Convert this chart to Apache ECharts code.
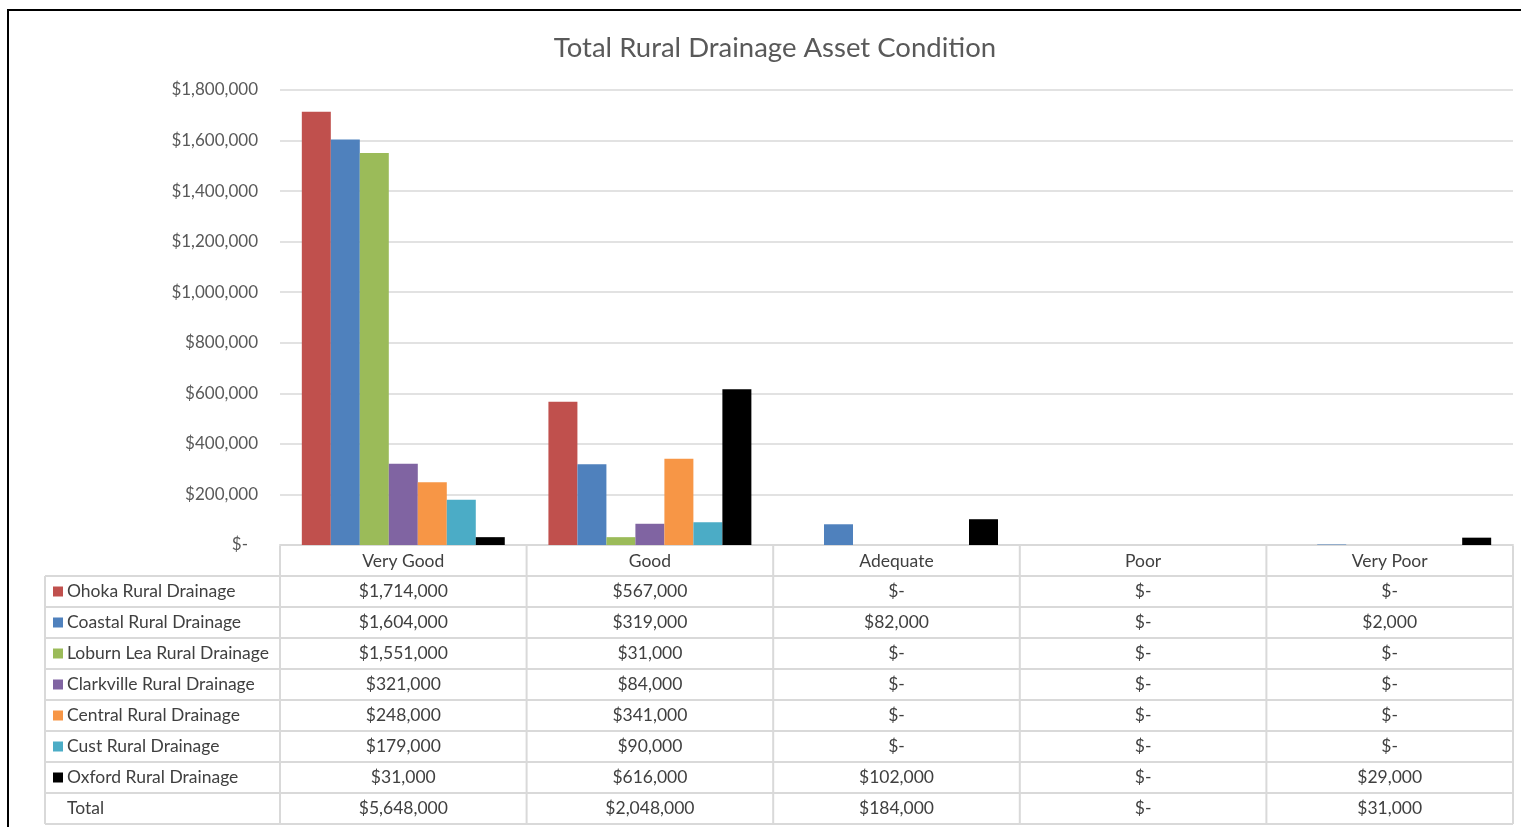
<!DOCTYPE html>
<html>
<head>
<meta charset="utf-8">
<script src="https://cdn.jsdelivr.net/npm/echarts@6/dist/echarts.min.js"></script>
<style>
  html, body { margin: 0; padding: 0; background: #fff; }
  #main { width: 1521px; height: 827px; }
</style>
</head>
<body>
<div id="main"></div>
<script>
// categories and series (values in $)
var categories = ['Very Good', 'Good', 'Adequate', 'Poor', 'Very Poor'];
var seriesNames = ['Ohoka Rural Drainage', 'Coastal Rural Drainage', 'Loburn Lea Rural Drainage',
  'Clarkville Rural Drainage', 'Central Rural Drainage', 'Cust Rural Drainage', 'Oxford Rural Drainage'];
var ohoka = [1714000, 567000, 0, 0, 0];
var coastal = [1604000, 319000, 82000, 0, 2000];
var loburn = [1551000, 31000, 0, 0, 0];
var clarkville = [321000, 84000, 0, 0, 0];
var central = [248000, 341000, 0, 0, 0];
var cust = [179000, 90000, 0, 0, 0];
var oxford = [31000, 616000, 102000, 0, 29000];
var colors = ['#C0504D', '#4F81BD', '#9BBB59', '#8064A2', '#F79646', '#4BACC6', '#000000'];

var allData = [ohoka, coastal, loburn, clarkville, central, cust, oxford];
var totals = categories.map(function (c, i) {
  return allData.reduce(function (s, arr) { return s + arr[i]; }, 0);
});

function money(v) {
  if (!v) return '$-';
  return '$' + v.toLocaleString('en-US');
}

var FONT = 'Lato';
var W = 1521, H = 827;
var gridL = 280, gridR = 8, gridT = 90, gridB = 282;
var plotBottom = H - gridB;
var colW = (W - gridL - gridR) / categories.length;
var rowH = 31;
var tableTop = plotBottom + 1;
var headH = 30;
var leftCol = 45;
var lineCol = '#d9d9d9';

// build data table from arrays
var g = [];
// outer border
g.push({ type: 'rect', shape: { x: 8, y: 10, width: W, height: H }, style: { fill: null, stroke: '#000', lineWidth: 2 }, silent: true });

var nRows = seriesNames.length + 1;
var bodyTop = tableTop + headH;
var tableBottom = bodyTop + nRows * rowH;
// header verticals
for (var c = 0; c <= categories.length; c++) {
  var x = gridL + c * colW;
  g.push({ type: 'line', shape: { x1: x, y1: tableTop, x2: x, y2: tableBottom }, style: { stroke: lineCol, lineWidth: 2 } });
}
g.push({ type: 'line', shape: { x1: leftCol, y1: bodyTop, x2: leftCol, y2: tableBottom }, style: { stroke: lineCol, lineWidth: 2 } });
// horizontals
for (var r = 0; r <= nRows; r++) {
  var y = bodyTop + r * rowH;
  g.push({ type: 'line', shape: { x1: leftCol, y1: y, x2: W - gridR, y2: y }, style: { stroke: lineCol, lineWidth: 2 } });
}
// header labels
categories.forEach(function (cat, i) {
  g.push({ type: 'text', x: gridL + (i + 0.5) * colW, y: tableTop + headH / 2,
    style: { text: cat, fill: '#404040', font: '17.5px ' + FONT, align: 'center', verticalAlign: 'middle' } });
});
// body rows
var rowNames = seriesNames.concat(['Total']);
var rowData = allData.concat([totals]);
rowNames.forEach(function (name, r) {
  var cy = bodyTop + (r + 0.5) * rowH;
  if (r < seriesNames.length) {
    g.push({ type: 'rect', shape: { x: 53, y: cy - 5, width: 10, height: 10 }, style: { fill: colors[r] } });
  }
  g.push({ type: 'text', x: 67, y: cy,
    style: { text: name, fill: '#404040', font: '17.5px ' + FONT, align: 'left', verticalAlign: 'middle' } });
  rowData[r].forEach(function (v, i) {
    g.push({ type: 'text', x: gridL + (i + 0.5) * colW, y: cy,
      style: { text: money(v), fill: '#404040', font: '17.5px ' + FONT, align: 'center', verticalAlign: 'middle' } });
  });
});

var chart = echarts.init(document.getElementById('main'));
chart.setOption({
  animation: false,
  color: colors,
  title: {
    text: 'Total Rural Drainage Asset Condition',
    left: 770, top: 29, textAlign: 'center',
    textStyle: { fontFamily: FONT, fontSize: 27.5, fontWeight: 'normal', color: '#595959' }
  },
  grid: { left: gridL, right: gridR, top: gridT, bottom: gridB, containLabel: false },
  xAxis: {
    type: 'category', data: categories,
    axisLine: { show: true, lineStyle: { color: lineCol, width: 2 } },
    axisTick: { show: false }, axisLabel: { show: false }
  },
  yAxis: {
    type: 'value', min: 0, max: 1800000, interval: 200000,
    axisLine: { show: false }, axisTick: { show: false },
    splitLine: { lineStyle: { color: lineCol, width: 1.5 } },
    axisLabel: {
      margin: 22, color: '#595959', fontFamily: FONT, fontSize: 17,
      formatter: function (v) { return v === 0 ? '{z|$-}' : money(v); },
      rich: { z: { fontFamily: FONT, fontSize: 17, color: '#595959', padding: [0, 10, 0, 0] } }
    }
  },
  series: seriesNames.map(function (n, i) {
    return { name: n, type: 'bar', data: allData[i], barGap: 0, barCategoryGap: '17.7%' };
  }),
  graphic: { elements: g }
});
</script>
</body>
</html>
